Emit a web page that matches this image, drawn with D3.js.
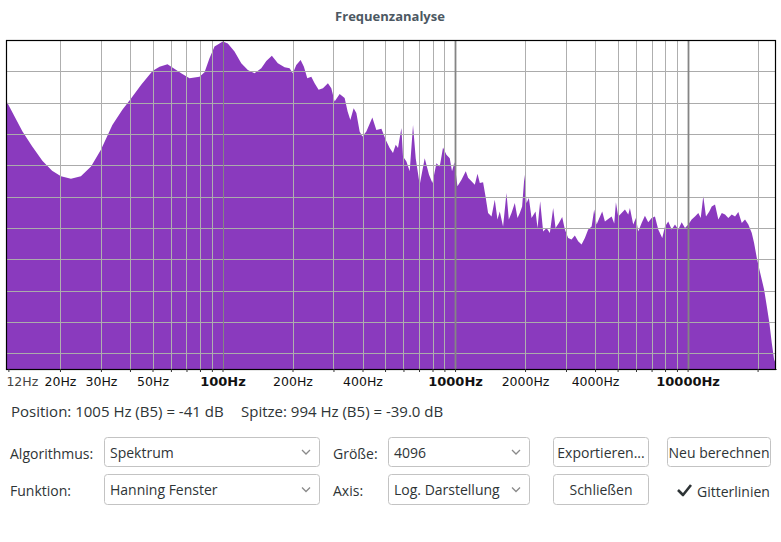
<!DOCTYPE html>
<html><head><meta charset="utf-8">
<script src="https://cdn.jsdelivr.net/npm/d3@7"></script>
<style>body{margin:0;background:#fff}svg{display:block}</style>
</head><body><svg id="c" width="781" height="542"></svg>
<script>
// ---- data ----
const title = "Frequenzanalyse";
// [frequency Hz, level dB]
const spectrum = [
[11.72,-19.2],[13.8,-29.2],[15.2,-34.0],[16.8,-38.5],[18.5,-41.7],[20.2,-43.5],[22.3,-44.3],[24.6,-43.5],[27.2,-40.4],[30.0,-35.0],[33.6,-27.1],[37.1,-22.3],[40.5,-18.6],[44.7,-14.3],[50.0,-9.9],[53.6,-8.5],[58.0,-7.7],[60.9,-8.8],[66.4,-10.6],[72.1,-12.2],[79.6,-11.7],
[83.7,-10.3],[87.9,-5.8],[92.4,-2.1],[100.3,-0.5],[105.4,-1.1],[112.6,-3.7],[120.4,-7.4],[128.5,-9.6],[137.3,-10.6],[146.8,-9.0],[154.3,-6.7],[163.0,-5.0],[173.0,-7.4],[184.9,-8.7],[194.2,-9.0],[200.7,-10.6],[207.6,-8.0],[216.7,-6.4],[223.9,-8.5],[231.5,-12.2],[240.9,-11.7],[248.9,-13.8],[259.0,-15.9],[270.3,-15.4],[284.0,-13.8],[293.7,-15.4],[303.4,-19.6],[319.0,-17.2],
[335.1,-18.5],[345.2,-22.8],[354.6,-25.5],[366.4,-21.8],[376.3,-23.3],[388.8,-29.2],[399.4,-30.8],[415.5,-29.2],[440.9,-24.7],[458.7,-28.7],[482.4,-28.3],[503.2,-31.8],[523.5,-34.5],[540.9,-36.1],[555.6,-33.4],[568.4,-34.5],[587.9,-28.1],[597.3,-37.2],[617.8,-38.8],[638.3,-41.9],[659.6,-27.1],[677.4,-37.7],[704.7,-46.2],[740.5,-37.7],[772.9,-43.0],[799.3,-45.6],[831.6,-39.3],[859.2,-40.4],[887.8,-34.3],[918.3,-36.6],[948.9,-37.7],[970.7,-41.9],[994,-39.0],[1024,-46.7],[1066,-44.6],[1112,-41.9],
[1138,-44.0],[1177,-45.1],[1216,-46.2],[1249,-42.7],[1278,-45.6],[1320,-45.4],[1352,-49.9],[1387,-55.2],[1435,-56.3],[1482,-51.0],[1522,-57.3],[1557,-54.7],[1609,-59.5],[1664,-48.8],[1703,-57.3],[1749,-55.2],[1807,-52.0],[1856,-56.8],[1899,-55.2],[1943,-53.1],[1990,-43.0],[2030,-52.0],[2077,-50.4],[2133,-56.8],[2219,-54.7],[2263,-60.0],[2323,-51.5],[2393,-61.1],[2475,-60.0],[2557,-61.6],[2642,-53.6],[2706,-60.0],[2796,-58.4],[2889,-56.5],[2967,-60.5],[3065,-63.2],[3170,-63.7],[3275,-62.4],[3384,-64.2],[3500,-65.3],[3617,-63.2],[3737,-60.5],[3866,-59.5],[3967,-54.1],[4062,-58.9],[4156,-57.1],[4294,-54.7],[4411,-57.9],[4557,-57.1],[4714,-56.3],
[4837,-58.6],[4918,-51.8],[5032,-56.3],[5205,-55.2],[5378,-54.1],[5557,-55.7],[5649,-53.6],[5837,-58.9],[5996,-56.8],[6134,-61.1],[6344,-58.4],[6555,-56.1],[6773,-58.2],[7006,-56.8],[7239,-56.3],[7480,-60.5],[7782,-63.2],[7993,-59.5],[8259,-57.9],[8542,-60.5],[8827,-58.9],[9120,-60.5],[9432,-58.2],[9746,-60.0],[10070,-58.9],[10410,-57.3],[10760,-56.3],[11120,-55.2],[11390,-56.8],[11680,-49.9],[12000,-56.3],[12400,-54.7],[12700,-53.1],[13120,-52.5],[13560,-57.3],[14030,-55.2],[14490,-55.7],[14970,-56.8],[15480,-55.7],[16000,-56.3],[16530,-54.9],[17100,-58.4],[17660,-57.3],[18250,-58.9],[18880,-61.6],[19310,-64.7],[19840,-69.5],[20350,-73.2],[20840,-76.4],[21330,-79.6],[21900,-84.9],[22470,-90.2],[23010,-96.6],[23540,-101.9],[24000,-103.5]
];
const freqDomain = [11.72, 24000];
const dbDomain = [-105, 0];
const dbGrid = [-10,-20,-30,-40,-50,-60,-70,-80,-90,-100];
const gridMinorHz = [20,30,40,50,60,70,80,90,200,300,400,500,600,700,800,900,2000,3000,4000,5000,6000,7000,8000,9000,20000];
const gridMajorHz = [100,1000,10000];
const tickHz = [12,20,30,40,50,60,70,80,90,100,200,300,400,500,600,700,800,900,1000,2000,3000,4000,5000,6000,7000,8000,9000,10000,20000];
const labelHz = [12,20,30,50,100,200,400,1000,2000,4000,10000];
const boldHz = [100,1000,10000];
const infoPosition = "Position: 1005 Hz (B5) = -41 dB";
const infoPeak = "Spitze: 994 Hz (B5) = -39.0 dB";

// ---- chart ----
const svg = d3.select("#c");
const L = 6, R = 776, T = 40, B = 369;
const x = d3.scaleLog().domain(freqDomain).range([L, R]);
const y = d3.scaleLinear().domain(dbDomain).range([B, T]);
const FONT = "'Open Sans', 'DejaVu Sans', sans-serif";

svg.append("text").attr("x", 390).attr("y", 21).attr("text-anchor", "middle")
  .attr("font-family", FONT).attr("font-weight", "bold").attr("font-size", 13)
  .attr("fill", "#4c5862").text(title);

svg.append("defs").append("clipPath").attr("id", "pc")
  .append("rect").attr("x", L).attr("y", T).attr("width", R - L).attr("height", B - T);

const area = d3.area().x(d => x(d[0])).y0(y(dbDomain[0])).y1(d => y(d[1])).curve(d3.curveLinear);
svg.append("path").datum(spectrum).attr("d", area).attr("fill", "#8a3abe").attr("clip-path", "url(#pc)");

const g = svg.append("g");
g.selectAll(".hg").data(dbGrid).join("line")
  .attr("x1", L).attr("x2", R).attr("y1", d => Math.round(y(d)) + 0.5).attr("y2", d => Math.round(y(d)) + 0.5)
  .attr("stroke", "#ababab").attr("stroke-width", 1);
g.selectAll(".vg").data(gridMinorHz).join("line")
  .attr("x1", d => Math.round(x(d)) + 0.5).attr("x2", d => Math.round(x(d)) + 0.5).attr("y1", T).attr("y2", B)
  .attr("stroke", "#afafaf").attr("stroke-width", 1);
g.selectAll(".vm").data(gridMajorHz).join("line")
  .attr("x1", d => Math.round(x(d)) + 0.5).attr("x2", d => Math.round(x(d)) + 0.5).attr("y1", T).attr("y2", B)
  .attr("stroke", "#858585").attr("stroke-width", d => d === 100 ? 1 : 1.8);

svg.append("rect").attr("x", L + 0.5).attr("y", T + 0.5).attr("width", R - L - 1).attr("height", B - T)
  .attr("fill", "none").attr("stroke", "#000").attr("stroke-width", 1.2);

const axis = d3.axisBottom(x).tickValues(tickHz).tickSize(3).tickSizeOuter(0)
  .tickFormat(d => labelHz.includes(d) ? d + "Hz" : "");
const ag = svg.append("g").attr("transform", `translate(0,${B})`).call(axis);
ag.select(".domain").attr("stroke", "#000");
ag.selectAll(".tick line").attr("stroke", "#333");
ag.selectAll(".tick text")
  .attr("y", 16.5).attr("dy", 0)
  .attr("font-family", "'DejaVu Sans', sans-serif")
  .attr("font-size", d => boldHz.includes(d) ? 13 : 12.5)
  .attr("font-weight", d => boldHz.includes(d) ? "bold" : "normal")
  .attr("fill", d => d === 12 ? "#444" : "#111")
  .attr("text-anchor", d => d === 12 ? "start" : "middle")
  .attr("dx", d => d === 12 ? -2.5 : 0);

// ---- controls ----
const TXT = "#2e3436";
function label(tx, xx, yy, anchor, size) {
  svg.append("text").attr("x", xx).attr("y", yy).attr("dominant-baseline", "central")
    .attr("text-anchor", anchor || "start").attr("font-family", FONT).attr("font-size", size || 14)
    .attr("fill", TXT).text(tx);
}
function box(x0, x1, y0, h) {
  svg.append("rect").attr("x", x0 + 0.5).attr("y", y0 + 0.5).attr("width", x1 - x0 - 1).attr("height", h - 1)
    .attr("rx", 3).attr("fill", "#fff").attr("stroke", "#c3c3c3");
}
function dropdown(tx, x0, x1, y0, h) {
  box(x0, x1, y0, h);
  label(tx, x0 + 6, y0 + h / 2);
  const cx = x1 - 14, cy = y0 + h / 2;
  svg.append("path").attr("d", `M${cx - 4},${cy - 2} L${cx},${cy + 2} L${cx + 4},${cy - 2}`)
    .attr("fill", "none").attr("stroke", "#8a8a8a").attr("stroke-width", 1.3);
}
function button(tx, x0, x1, y0, h) {
  box(x0, x1, y0, h);
  label(tx, (x0 + x1) / 2, y0 + h / 2, "middle");
}

label(infoPosition, 11, 411, "start", 15);
label(infoPeak, 241, 411, "start", 15);

label("Algorithmus:", 10, 453);
dropdown("Spektrum", 104, 320, 437, 30);
label("Größe:", 333, 453);
dropdown("4096", 388, 530, 437, 30);
button("Exportieren...", 553, 649, 437, 30);
button("Neu berechnen", 667, 771, 437, 30);

label("Funktion:", 10, 490);
dropdown("Hanning Fenster", 104, 320, 474, 31);
label("Axis:", 333, 490);
dropdown("Log. Darstellung", 388, 530, 474, 31);
button("Schließen", 553, 649, 474, 31);
svg.append("path").attr("d", "M678,490 L683,495 L691,485")
  .attr("fill", "none").attr("stroke", "#2e3436").attr("stroke-width", 2.6).attr("stroke-linejoin", "round");
label("Gitterlinien", 697, 491);
</script></body></html>
